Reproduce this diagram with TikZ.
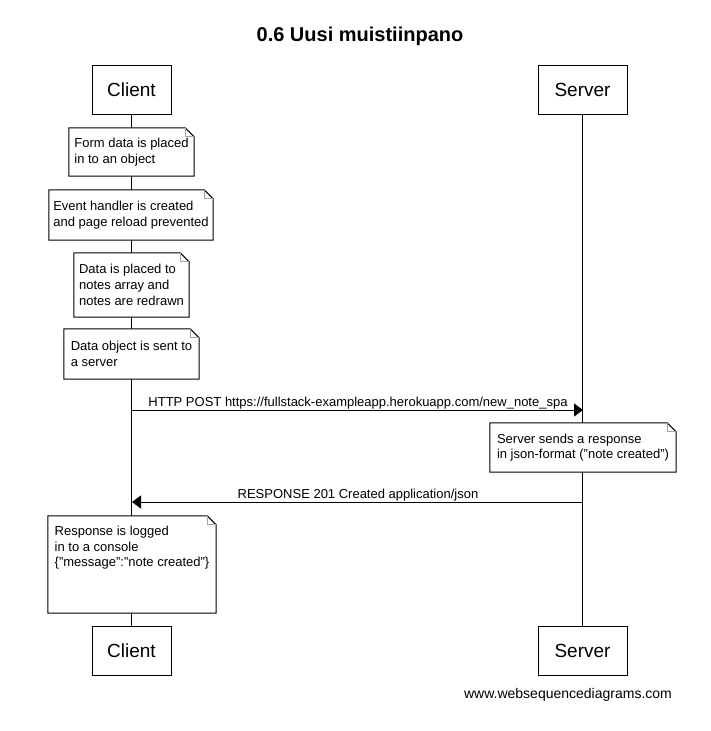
\documentclass[tikz,border=0pt]{standalone}
\usepackage{fontspec}
\setmainfont{Liberation Sans}
\usetikzlibrary{arrows.meta}
\newcommand{\dogear}[1]{%
  \draw[noteline] (#1.north west) -- ([xshift=-9pt]#1.north east) -- ([yshift=-9pt]#1.north east) -- (#1.south east) -- (#1.south west) -- cycle;
  \draw[foldline] ([xshift=-9pt]#1.north east) |- ([yshift=-9pt]#1.north east);}
\begin{document}
\begin{tikzpicture}[x=1pt,y=-1pt,
  actor/.style={draw=black, line width=1pt, fill=white, inner sep=0pt, font=\fontsize{19}{22}\selectfont},
  notebox/.style={draw=none, fill=white, inner sep=0pt, align=left, font=\fontsize{13}{15.7}\selectfont},
  noteline/.style={draw=black, line width=1pt, line join=miter},
  foldline/.style={draw=gray!70, line width=1pt},
  lifeline/.style={draw=black, line width=1pt},
  msg/.style={draw=black, line width=1pt, -{Triangle[length=9pt,width=13pt]}},
  msglabel/.style={anchor=base, inner sep=0pt, font=\fontsize{13}{15.7}\selectfont}]
\useasboundingbox (0,0) rectangle (710,731);
\fill[white] (0,0) rectangle (710,731);

\node[anchor=base, inner sep=0pt, font=\bfseries\fontsize{20}{24}\selectfont] (title) at (360,41) {0.6 Uusi muistiinpano};

\node[actor, minimum width=79pt, minimum height=49pt] (ctop) at (131.5,89.5) {Client};
\node[actor, minimum width=89pt, minimum height=49pt] (stop) at (582.5,89.5) {Server};
\node[actor, minimum width=79pt, minimum height=49pt] (cbot) at (131.5,650.5) {Client};
\node[actor, minimum width=89pt, minimum height=49pt] (sbot) at (582.5,650.5) {Server};

\draw[lifeline] (ctop.south) -- (cbot.north);
\draw[lifeline] (stop.south) -- (sbot.north);

\node[notebox, minimum width=125pt, minimum height=48pt] (n1) at (131.5,152) {Form data is placed\\in to an object};
\dogear{n1}
\node[notebox, minimum width=164pt, minimum height=50pt] (n2) at (131,215) {Event handler is created\\and page reload prevented};
\dogear{n2}
\node[notebox, minimum width=115pt, minimum height=64pt] (n3) at (131.5,285) {Data is placed to\\notes array and\\notes are redrawn};
\dogear{n3}
\node[notebox, minimum width=135pt, minimum height=50pt] (n4) at (131.5,354) {Data object is sent to\\a server};
\dogear{n4}

\coordinate (c1) at (132,410);
\coordinate (s1) at (583,410);
\draw[msg] (c1) -- (s1);
\node[msglabel] (l1) at (358,406) {HTTP POST https://fullstack-exampleapp.herokuapp.com/new\_note\_spa};

\node[notebox, minimum width=186pt, minimum height=49pt] (n5) at (583,447.5) {Server sends a response\\in json-format ("note created")};
\dogear{n5}

\coordinate (s2) at (583,502);
\coordinate (c2) at (132,502);
\draw[msg] (s2) -- (c2);
\node[msglabel] (l2) at (358,498) {RESPONSE 201 Created application/json};

\node[notebox, minimum width=168pt, minimum height=97pt] (n6) at (132,564.5) {Response is logged\\in to a console\\\{"message":"note created"\}\\\strut\\\strut};
\dogear{n6}

\node[anchor=base, inner sep=0pt, font=\fontsize{14}{17}\selectfont] (wm) at (568,698) {www.websequencediagrams.com};
\end{tikzpicture}
\end{document}
